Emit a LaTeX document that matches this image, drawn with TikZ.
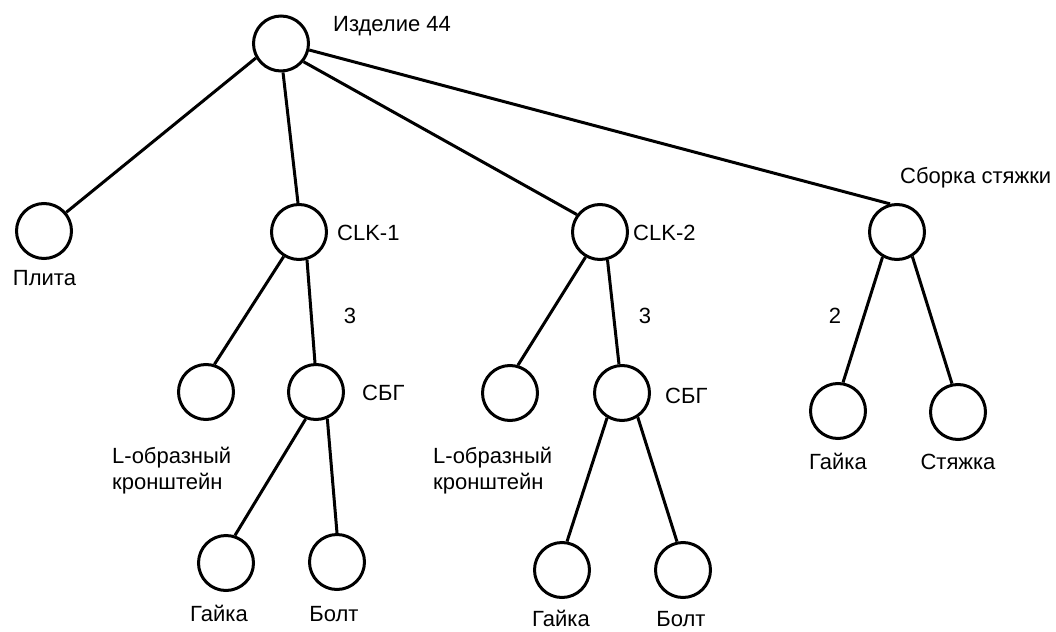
\documentclass[tikz,border=0pt]{standalone}
\usepackage{fontspec}
\setmainfont{Liberation Sans}
\begin{document}
\begin{tikzpicture}[x=1pt,y=-1pt,
  part/.style={circle,draw,line width=3pt,minimum size=55pt,inner sep=0pt},
  lbl/.style={font=\fontsize{22}{26}\selectfont,inner sep=0pt},
  link/.style={line width=3pt}]
\useasboundingbox[fill=white] (0,0) rectangle (1056,631);

% parts of the assembly
\node[part] (root)  at (281,43.5) {};
\node[part] (plate) at (44,231)  {};
\node[part] (clka)  at (299,232) {};
\node[part] (clkb)  at (600,232) {};
\node[part] (tie)   at (897,232) {};
\node[part] (bra)   at (206,392) {};
\node[part] (sbga)  at (316,392) {};
\node[part] (brb)   at (510,393) {};
\node[part] (sbgb)  at (622,393) {};
\node[part] (tnut)  at (838,411) {};
\node[part] (trod)  at (958,412) {};
\node[part] (nuta)  at (226,563) {};
\node[part] (bolta) at (337,562) {};
\node[part] (nutb)  at (562,570) {};
\node[part] (boltb) at (683,570) {};

% names and quantities
\node[lbl,anchor=base west] (troot) at (333,32)  {Изделие 44};
\node[lbl,anchor=base]      (tplate) at (44.5,285) {Плита};
\node[lbl,anchor=base west] (tclka) at (337,240) {CLK-1};
\node[lbl,anchor=base west] (tclkb) at (633,240) {CLK-2};
\node[lbl,anchor=base west] (ttie)  at (900,183) {Сборка стяжки};
\node[lbl,anchor=base] (qa) at (350,323) {3};
\node[lbl,anchor=base] (qb) at (645,323) {3};
\node[lbl,anchor=base] (qc) at (835,323) {2};
\node[lbl,anchor=base west] (tsbga) at (362,400) {СБГ};
\node[lbl,anchor=base west] (tsbgb) at (665,403) {СБГ};
\node[lbl,anchor=base west] (tbraa) at (112,463) {L-образный};
\node[lbl,anchor=base west] (tbrab) at (112,489) {кронштейн};
\node[lbl,anchor=base west] (tbrba) at (433,463) {L-образный};
\node[lbl,anchor=base west] (tbrbb) at (433,489) {кронштейн};
\node[lbl,anchor=base] (ttnut) at (838,469) {Гайка};
\node[lbl,anchor=base] (ttrod) at (958,469) {Стяжка};
\node[lbl,anchor=base] (tnuta)  at (219,621) {Гайка};
\node[lbl,anchor=base] (tbolta) at (334,621) {Болт};
\node[lbl,anchor=base] (tnutb)  at (561,626) {Гайка};
\node[lbl,anchor=base] (tboltb) at (681,626) {Болт};

% structure links
\draw[link] (root.210) -- (plate.40);
\draw[link] (root.-86) -- (clka.92);
\draw[link] (root.-39) -- (clkb.143);
\draw[link] (root.-13) -- (tie.104);
\draw[link] (clka.-122) -- (bra.73);
\draw[link] (clka.-74) -- (sbga.92);
\draw[link] (clkb.-120) -- (brb.74);
\draw[link] (clkb.-75) -- (sbgb.96);
\draw[link] (tie.-120) -- (tnut.80);
\draw[link] (tie.-58) -- (trod.102);
\draw[link] (sbga.-111) -- (nuta.72);
\draw[link] (sbga.-67) -- (bolta.90);
\draw[link] (sbgb.-121) -- (nutb.80);
\draw[link] (sbgb.-57) -- (boltb.102);
\end{tikzpicture}
\end{document}
